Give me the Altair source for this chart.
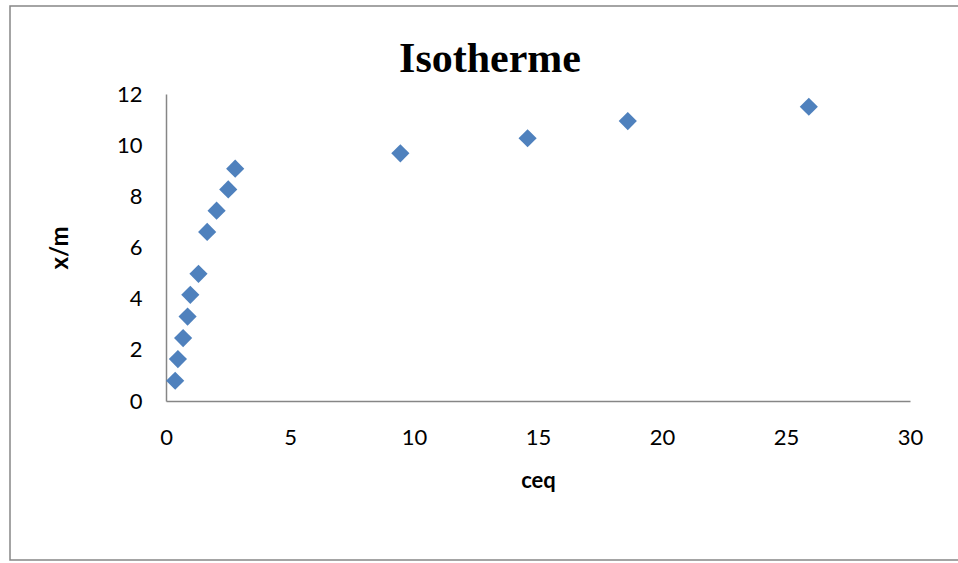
import altair as alt
import pandas as pd

# Equilibrium concentration and adsorbed amount per unit mass
ceq = [0.37, 0.48, 0.69, 0.87, 0.98, 1.31, 1.66, 2.04, 2.51, 2.79, 9.45, 14.58, 18.62, 25.92]
x_over_m = [0.79, 1.64, 2.46, 3.30, 4.15, 4.97, 6.61, 7.44, 8.27, 9.08, 9.68, 10.27, 10.94, 11.50]

df = pd.DataFrame({"ceq": ceq, "xm": x_over_m})

W, H = 744, 307
LEFT, TOP = 166, 94
label_font = "Lato"

points = alt.Chart(df).mark_point(
    shape="diamond", filled=True, size=330, color="#4F81BD", opacity=1
).encode(
    x=alt.X("ceq:Q",
            scale=alt.Scale(domain=[0, 30], nice=False, zero=True),
            axis=alt.Axis(values=[0, 5, 10, 15, 20, 25, 30], title="ceq",
                          grid=False, ticks=False, domainColor="#868686", domainWidth=1.5,
                          labelFont=label_font, labelFontSize=22, labelColor="#000000",
                          labelPadding=36, labelBaseline="middle", labelFlush=False,
                          titleFont=label_font, titleFontSize=22, titleFontWeight="bold",
                          titleColor="#000000", titleX=W / 2, titleY=79,
                          titleBaseline="middle", titleAlign="center")),
    y=alt.Y("xm:Q",
            scale=alt.Scale(domain=[0, 12], nice=False, zero=True),
            axis=alt.Axis(values=[0, 2, 4, 6, 8, 10, 12], title="x/m",
                          grid=False, ticks=False, domainColor="#868686", domainWidth=1.5,
                          labelFont=label_font, labelFontSize=22, labelColor="#000000",
                          labelPadding=24, labelFlush=False,
                          titleFont=label_font, titleFontSize=24, titleFontWeight="bold",
                          titleColor="#000000", titleX=60 - LEFT, titleY=H / 2,
                          titleAngle=270, titleBaseline="middle", titleAlign="center")),
)

# Heading centred over the whole frame
heading = alt.Chart(pd.DataFrame({"t": ["Isotherme"]})).mark_text(
    font="Liberation Serif", fontSize=42, fontWeight="bold", color="#000000",
    align="center", baseline="alphabetic"
).encode(text="t:N", x=alt.value(490 - LEFT), y=alt.value(72 - TOP))

# Outer chart frame
frame = alt.Chart(pd.DataFrame({"k": [0]})).mark_rect(
    fill=None, stroke="#868686", strokeWidth=1.5
).encode(
    x=alt.value(10 - LEFT), x2=alt.value(975 - LEFT),
    y=alt.value(6 - TOP), y2=alt.value(560 - TOP)
)

chart = alt.layer(frame, points, heading).properties(
    width=W, height=H,
    autosize=alt.AutoSizeParams(type="none"),
    padding={"left": LEFT, "top": TOP, "right": 958 - LEFT - W, "bottom": 563 - TOP - H},
    background="#ffffff",
).configure_view(stroke=None)

chart.save("out.html", embed_options={"renderer": "svg", "actions": False})
